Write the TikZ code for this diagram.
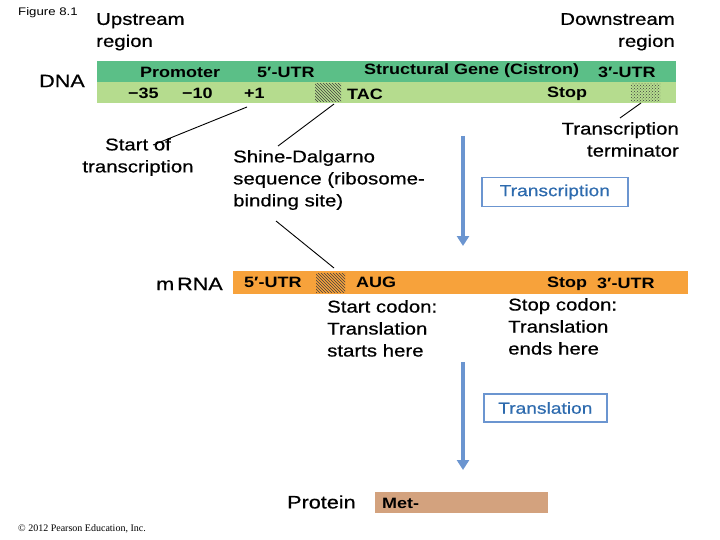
\documentclass[tikz,border=0pt]{standalone}
\usepackage{fontspec}
\setmainfont[FakeStretch=1.2]{Liberation Sans}
\newfontfamily\med[FakeStretch=1.2,FakeBold=0.6]{Liberation Sans}
\newfontfamily\plainrm{Liberation Serif}
\usetikzlibrary{patterns,arrows.meta}
\definecolor{dg}{HTML}{5BBF87}
\definecolor{lg}{HTML}{B5DC8E}
\definecolor{og}{HTML}{F7A23B}
\definecolor{pr}{HTML}{D3A27E}
\definecolor{bl}{HTML}{6B95D0}
\definecolor{tb}{HTML}{2E6BAE}
\begin{document}
\begin{tikzpicture}[x=1pt,y=-1pt,
  lab/.style={font=\med\fontsize{17}{22}\selectfont,align=left,inner sep=0},
  bar/.style={font=\bfseries\fontsize{15}{16}\selectfont,inner sep=0},
  ln/.style={line width=0.9pt},
  arr/.style={bl,line width=4pt,-{Triangle[length=10pt,width=12pt]}},
  box/.style={draw=bl,line width=1.6pt,text=tb,font=\med\fontsize{16}{18}\selectfont,inner sep=4pt,minimum height=29pt}]
\useasboundingbox (0,0) rectangle (720,540);
% DNA
\fill[dg] (97,61) rectangle (676,82);
\fill[lg] (97,82) rectangle (676,103);
\node[font=\fontsize{11}{12}\selectfont,anchor=west,inner sep=0] (fig) at (18,13) {Figure 8.1};
\node[lab,anchor=north west] (up) at (96,13) {Upstream\\region};
\node[lab,anchor=north east,align=right] (down) at (675,13) {Downstream\\region};
\node[font=\med\fontsize{18}{18}\selectfont,anchor=west,inner sep=0] (dna) at (39,81) {DNA};
\node[bar,anchor=west] (prom) at (140,72) {Promoter};
\node[bar,anchor=west] (utr5) at (257,72) {5\char"2032-UTR};
\node[bar,anchor=west] (sg) at (364,71) {Structural Gene (Cistron)};
\node[bar,anchor=west] (utr3) at (598,72) {3\char"2032-UTR};
\node[bar,anchor=west] (m35) at (128,93) {\textminus 35};
\node[bar,anchor=west] (m10) at (182,93) {\textminus 10};
\node[bar,anchor=west] (p1) at (244,93) {+1};
\node[bar,anchor=west] (tac) at (347,94) {TAC};
\node[bar,anchor=west] (stop) at (547,94) {Stop};
\fill[pattern=north west lines,pattern color=black!75] (315,84) rectangle (341,102);
\fill[pattern=crosshatch dots,pattern color=black!75] (631,84) rectangle (660,102);
\coordinate (hs) at (334,104);
\coordinate (ht) at (641,103);
% labels
\node[lab,align=center] (sot) at (138,157) {Start of\\transcription};
\draw[ln] (153,145) -- (247,107);
\node[lab] (sd) at (233,180) [anchor=west] {Shine-Dalgarno\\sequence (ribosome-\\binding site)};
\draw[ln] (278,146) -- (hs);
\node[lab,align=right,anchor=north east] (tt) at (679,122) {Transcription\\terminator};
\draw[ln] (620,118) -- (ht);
\node[box,anchor=west,minimum width=146pt] (tr) at (481,192) {Transcription};
\draw[arr] (463,136) -- (463,246);
% mRNA
\fill[og] (233,271) rectangle (688,294);
\node[font=\med\fontsize{18}{18}\selectfont,anchor=west,inner sep=0] (mrna) at (156,284) {m\,RNA};
\node[bar,anchor=west] (m5) at (244,282) {5\char"2032-UTR};
\fill[pattern=north west lines,pattern color=black!75] (316,273) rectangle (345,292);
\coordinate (hm) at (334,268);
\draw[ln] (276,221) -- (hm);
\node[bar,anchor=west] (aug) at (356,282) {AUG};
\node[bar,anchor=west] (mstop) at (547,284) {Stop};
\node[bar,anchor=west] (m3) at (597,283) {3\char"2032-UTR};
\node[lab,anchor=north west] (sc) at (327,300) {Start codon:\\Translation\\starts here};
\node[lab,anchor=north west] (stc) at (508,298) {Stop codon:\\Translation\\ends here};
\node[box,anchor=west,minimum height=28pt,minimum width=123pt] (tl) at (483,408) {Translation};
\draw[arr] (463,362) -- (463,470);
% protein
\fill[pr] (375,492) rectangle (548,513);
\node[font=\med\fontsize{18}{18}\selectfont,anchor=west,inner sep=0] (prot) at (287,502) {Protein};
\node[bar,anchor=west] (met) at (382,503) {Met-};
\node[font=\plainrm\fontsize{10}{10}\selectfont,anchor=west,inner sep=0] (copy) at (18,529) {\textcopyright\ 2012 Pearson Education, Inc.};
\end{tikzpicture}
\end{document}
